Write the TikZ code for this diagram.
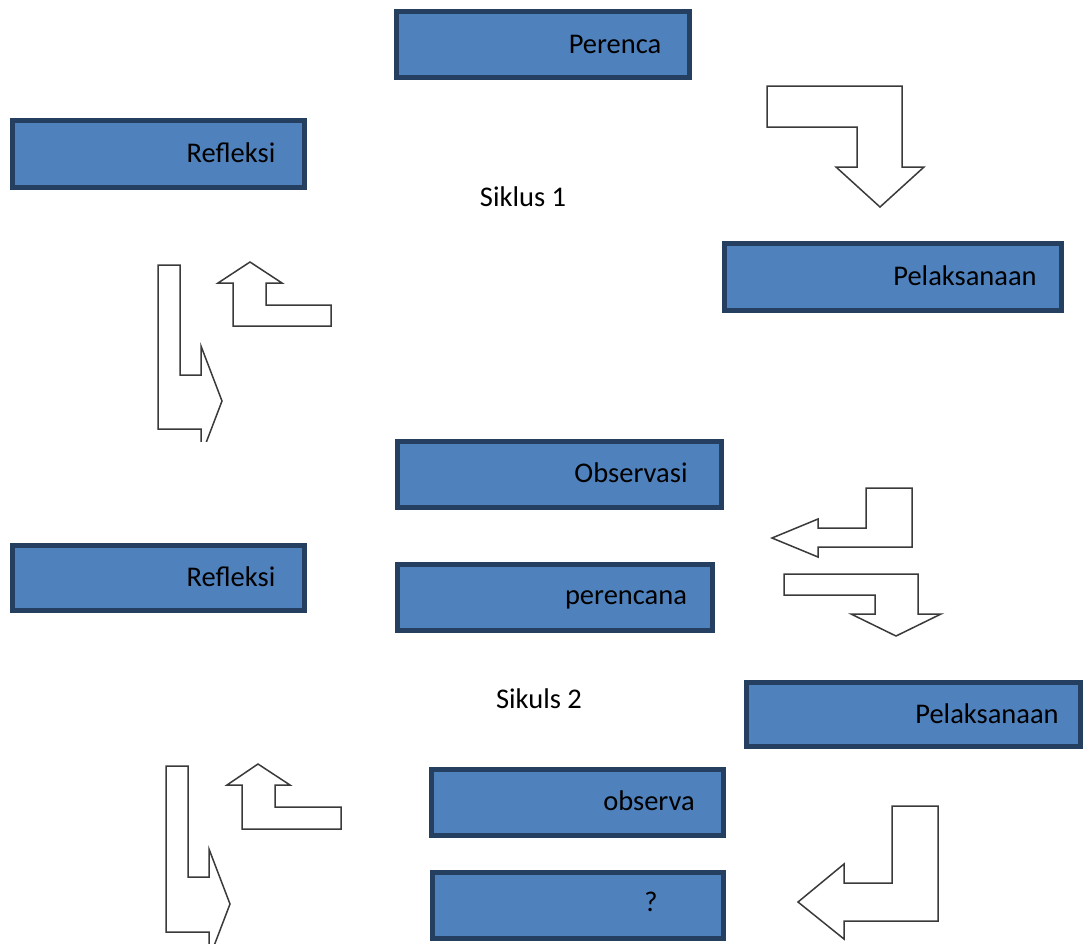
\documentclass[tikz,border=0pt]{standalone}
\usepackage{fontspec}
\setmainfont{Carlito}
\definecolor{boxfill}{HTML}{4F81BD}
\definecolor{boxborder}{HTML}{243F60}
\definecolor{arrowline}{HTML}{3A3A3A}
\begin{document}
\begin{tikzpicture}[x=1pt,y=-1pt,
  box/.style={draw=boxborder,line width=5pt,fill=boxfill,inner sep=0pt,anchor=center},
  lbl/.style={inner sep=0pt,anchor=base,font=\fontsize{28.5}{34}\selectfont,text=black},
  blockarrow/.style={draw=arrowline,line width=1.5pt,fill=white,line join=miter}]
\useasboundingbox (0,0) rectangle (1083,943);
\clip (0,0) rectangle (1083,943);
% boxes (outer extents minus line width)
\node[box,minimum width=293pt,minimum height=66pt] (b1) at (543,44.5) {};
\node[box,minimum width=292pt,minimum height=67pt] (b2) at (158.5,154) {};
\node[box,minimum width=337pt,minimum height=67pt] (b3) at (893,277) {};
\node[box,minimum width=324pt,minimum height=66pt] (b4) at (559.5,474.5) {};
\node[box,minimum width=292pt,minimum height=65pt] (b5) at (158.5,578) {};
\node[box,minimum width=315pt,minimum height=66pt] (b6) at (555,597.5) {};
\node[box,minimum width=334pt,minimum height=64pt] (b7) at (913.5,714.5) {};
\node[box,minimum width=292pt,minimum height=66pt] (b8) at (577.5,802.5) {};
\node[box,minimum width=291pt,minimum height=66pt] (b9) at (578,905.5) {};
% labels
\node[lbl] (t1) at (615,53) {Perenca};
\node[lbl] (t2) at (231,162) {Refleksi};
\node[lbl] (s1) at (523,206) {Siklus 1};
\node[lbl] (t3) at (965,285) {Pelaksanaan};
\node[lbl] (t4) at (631,482) {Observasi};
\node[lbl] (t5) at (231,586) {Refleksi};
\node[lbl] (t6) at (626,604) {perencana};
\node[lbl] (s2) at (539,708) {Sikuls 2};
\node[lbl] (t7) at (987,723) {Pelaksanaan};
\node[lbl] (t8) at (649,810) {observa};
\node[lbl] (t9) at (651,911) {?};
% block arrows
% A1: right then down
\draw[blockarrow] (767,86) -- (902,86) -- (902,167) -- (924,167) -- (880,207)
  -- (836,167) -- (857,167) -- (857,127) -- (767,127) -- cycle;
% A2: up arrow (cycle 1)
\draw[blockarrow] (250,262) -- (282,283) -- (266,283) -- (266,305) -- (331,305)
  -- (331,326) -- (233,326) -- (233,283) -- (218,283) -- cycle;
% A3: down then right (cycle 1), clipped
\begin{scope}
\clip (0,0) rectangle (1083,441);
\draw[blockarrow] (158,265) -- (180,265) -- (180,375) -- (201,375) -- (201,346)
  -- (222,401) -- (201,456) -- (201,429) -- (158,429) -- cycle;
\end{scope}
% A4: left arrow
\draw[blockarrow] (866,488) -- (912,488) -- (912,547) -- (818,547) -- (818,557)
  -- (772,538) -- (818,519) -- (818,528) -- (866,528) -- cycle;
% A5: right then down
\draw[blockarrow] (784,574) -- (918,574) -- (918,614) -- (941,614) -- (896,636)
  -- (851,614) -- (875,614) -- (875,595) -- (784,595) -- cycle;
% A6: up arrow (cycle 2)
\draw[blockarrow] (258,764) -- (290,785) -- (275,785) -- (275,807) -- (341,807)
  -- (341,829) -- (242,829) -- (242,785) -- (227,785) -- cycle;
% A7: down then right (cycle 2)
\draw[blockarrow] (166,766) -- (188,766) -- (188,877) -- (209,877) -- (209,849)
  -- (230,904) -- (209,959) -- (209,932) -- (166,932) -- cycle;
% A8: up-left arrow
\draw[blockarrow] (798,902) -- (844,864) -- (844,883) -- (892,883) -- (892,806)
  -- (938,806) -- (938,921) -- (844,921) -- (844,939) -- cycle;
\end{tikzpicture}
\end{document}
